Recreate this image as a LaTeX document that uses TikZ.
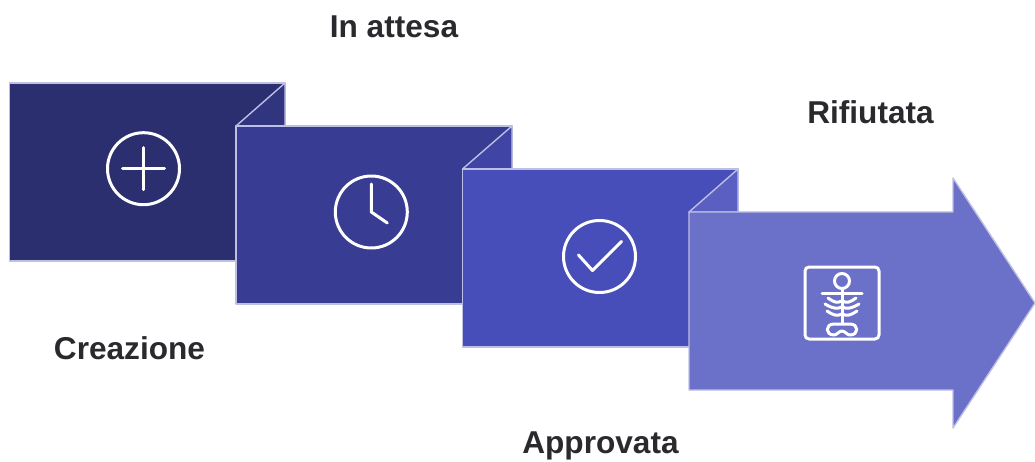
\documentclass[tikz,border=0pt]{standalone}
\usepackage{fontspec}
\setmainfont{Liberation Sans}
\usepackage{tikz}
\usetikzlibrary{positioning,calc}
\definecolor{edgec}{HTML}{BDBFE4}
\definecolor{panelA}{HTML}{2B2F70}
\definecolor{panelB}{HTML}{383C92}
\definecolor{panelC}{HTML}{484EB9}
\definecolor{panelD}{HTML}{6B70C8}
\definecolor{foldA}{HTML}{313580}
\definecolor{foldB}{HTML}{3F44A5}
\definecolor{foldC}{HTML}{5A5FC1}
\definecolor{labelc}{HTML}{2A2A2E}
\tikzstyle{panel} = [draw=edgec,line width=1.4pt,line join=round]
\tikzstyle{glyph} = [draw=white,line width=3pt,line cap=round,line join=round]
\tikzstyle{caption} = [text=labelc,font=\fontsize{31.6}{33}\selectfont\bfseries,inner sep=0]

\begin{document}
\begin{tikzpicture}[x=1pt,y=-1pt]

   \useasboundingbox (0,0) rectangle (1035,462);

   % panels, back to front
   \draw[panel,fill=panelA] (9.5,83) -- (285,83) -- (285,261) -- (9.5,261) -- cycle;
   \draw[panel,fill=foldA] (236,126) -- (285,83) -- (285,126) -- cycle;

   \draw[panel,fill=panelB] (236,126) -- (512,126) -- (512,304) -- (236,304) -- cycle;
   \draw[panel,fill=foldB] (462.5,169) -- (512,126) -- (512,169) -- cycle;

   \draw[panel,fill=panelC] (462.5,169) -- (738,169) -- (738,347) -- (462.5,347) -- cycle;
   \draw[panel,fill=foldC] (689,212) -- (738,169) -- (738,212) -- cycle;

   \draw[panel,fill=panelD] (689,212) -- (953,212) -- (953,178) -- (1035,303)
      -- (953,428) -- (953,390) -- (689,390) -- cycle;

   % plus
   \coordinate (plus) at (143.5,168.7);
   \draw[glyph] (plus) circle (36);
   \draw[glyph] ($(plus)+(-21,0)$) -- ($(plus)+(21,0)$);
   \draw[glyph] ($(plus)+(0,-21)$) -- ($(plus)+(0,21)$);

   % clock
   \coordinate (clock) at (371.3,212);
   \draw[glyph] (clock) circle (36);
   \draw[glyph] ($(clock)+(0,-28)$) -- (clock) -- ($(clock)+(16,11)$);

   % check
   \coordinate (check) at (599.5,256.5);
   \draw[glyph] (check) circle (36);
   \draw[glyph] ($(check)+(-21,-1.5)$) -- ($(check)+(-7,14)$) -- ($(check)+(22,-15)$);

   % xray
   \coordinate (xray) at (842,303);
   \draw[glyph,rounded corners=4pt] ($(xray)+(-37,-36)$) rectangle ($(xray)+(37,36)$);
   \draw[glyph] ($(xray)+(0,-22)$) circle (7.5);
   \draw[glyph] ($(xray)+(-20,-9.5)$) -- ($(xray)+(20,-9.5)$);
   \draw[glyph] ($(xray)+(0,-14)$) -- ($(xray)+(0,20)$);
   \foreach \ry/\rw in {-5/14,1/17,8/15}{
     \draw[glyph] ($(xray)+(-\rw,\ry)$) .. controls ($(xray)+(-\rw/2,\ry+5)$) and ($(xray)+(-5,\ry+5)$) .. ($(xray)+(0,\ry+3)$)
        .. controls ($(xray)+(5,\ry+5)$) and ($(xray)+(\rw/2,\ry+5)$) .. ($(xray)+(\rw,\ry)$);
   }
   \draw[glyph] ($(xray)+(0,28)$) .. controls ($(xray)+(-3,28)$) and ($(xray)+(-5,32)$) .. ($(xray)+(-8,32)$)
      .. controls ($(xray)+(-17,32)$) and ($(xray)+(-17,21)$) .. ($(xray)+(-8,21)$)
      .. controls ($(xray)+(-4,21)$) and ($(xray)+(4,21)$) .. ($(xray)+(8,21)$)
      .. controls ($(xray)+(17,21)$) and ($(xray)+(17,32)$) .. ($(xray)+(8,32)$)
      .. controls ($(xray)+(5,32)$) and ($(xray)+(3,28)$) .. ($(xray)+(0,28)$);

   % labels
   \node[caption] (attesa)    at (394,27)    {In attesa};
   \node[caption] (rifiutata) at (870.5,112) {Rifiutata};
   \node[caption] (creazione) at (129.5,348) {Creazione};
   \node[caption] (approvata) at (600.5,446) {Approvata};

\end{tikzpicture}
\end{document}
